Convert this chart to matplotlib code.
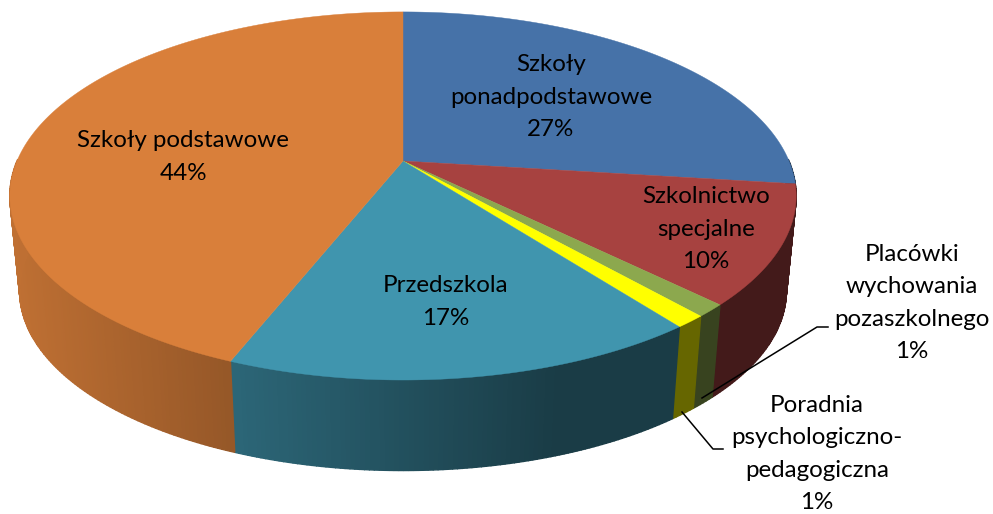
import matplotlib
matplotlib.use("Agg")
import matplotlib.pyplot as plt
import numpy as np

plt.rcParams["font.family"] = ["Lato", "DejaVu Sans"]

# clockwise from 12 o'clock
categories = ["Szkoły\nponadpodstawowe", "Szkolnictwo\nspecjalne", "Placówki\nwychowania\npozaszkolnego",
              "Poradnia\npsychologiczno-\npedagogiczna", "Przedszkola", "Szkoły podstawowe"]
values = [27, 10.4, 1.1, 1.1, 16.4, 44]
percent_labels = ["27%", "10%", "1%", "1%", "17%", "44%"]
colors = ["#4672A8", "#A74240", "#8CA84E", "#FFFF00", "#4095AE", "#D97F3A"]
label_pos = [(551, 97), (706, 229), (912, 303), (817, 454), (446, 302), (183, 157)]

# perspective of the tilted disc, in pixels
cx, cy = 403, 161
a, b, k = 386, 177.4, 0.19
side_scale, side_drop = 0.975, 96


def project(theta):
    x = np.sin(theta)
    y = np.cos(theta)
    w = 1 + k * y
    return a * x / w, b * y / w


def top_edge(theta):
    x, y = project(theta)
    return cx + x, cy - y


def bottom_edge(theta):
    x, y = project(theta)
    return cx + side_scale * x, cy + side_drop - side_scale * y


def shade(hex_color, px):
    f = np.clip(0.88 + (px - 10) * (0.40 - 0.88) / 550, 0.40, 0.88)
    return tuple(c * f for c in matplotlib.colors.to_rgb(hex_color))


fig = plt.figure(figsize=(9.93, 5.14), dpi=100)
ax = fig.add_axes([0, 0, 1, 1])
ax.set_xlim(0, 993)
ax.set_ylim(514, 0)
ax.axis("off")

edges = np.cumsum([0] + values) / sum(values) * 2 * np.pi

for i, color in enumerate(colors):
    n = max(int(values[i] * 6), 4)
    t = np.linspace(edges[i], edges[i + 1], n + 1)
    for t0, t1 in zip(t[:-1], t[1:]):
        # back half of the rim is hidden anyway
        if np.cos(t0) > 0 and np.cos(t1) > 0:
            continue
        x0, y0 = top_edge(t0)
        x1, y1 = top_edge(t1)
        x2, y2 = bottom_edge(t1)
        x3, y3 = bottom_edge(t0)
        c = shade(color, (x0 + x1) / 2)
        ax.fill([x0, x1, x2, x3], [y0, y1, y2, y3], color=c, lw=1.0, zorder=2)

for i, color in enumerate(colors):
    t = np.linspace(edges[i], edges[i + 1], 200)
    x, y = top_edge(t)
    ax.fill(np.r_[cx, x], np.r_[cy, y], color=color, lw=0.3, zorder=5)

# leader lines
ax.plot([702, 817, 828], [398, 327, 327], color="black", lw=1.1, zorder=6)
ax.plot([682, 713, 723], [412, 449, 449], color="black", lw=1.1, zorder=6)

for name, pct, (lx, ly) in zip(categories, percent_labels, label_pos):
    ax.text(lx, ly, f"{name}\n{pct}", ha="center", va="center", fontsize=17.4,
            linespacing=1.67, color="black", zorder=7)

fig.savefig("out.png", dpi=100)
